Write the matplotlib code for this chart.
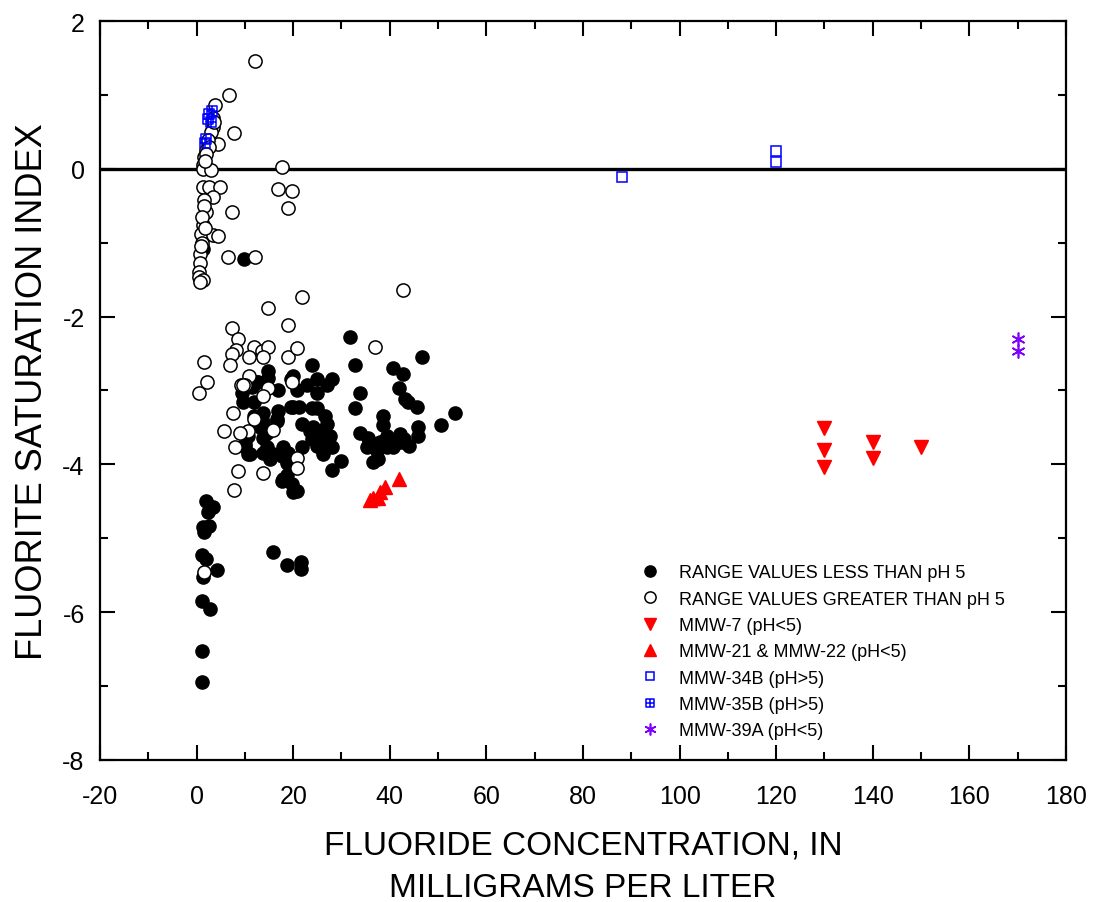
#!/usr/bin/env python3

import matplotlib.pyplot as plt
import numpy as np
from matplotlib.path import Path

plt.rcParams['font.family'] = ['Liberation Sans', 'DejaVu Sans']
plt.rcParams['axes.unicode_minus'] = False

# range values, pH less than 5 (filled circles)
lt5_x = [1.9, 3.3, 2.3, 1.4, 2.5, 1.6, 1.2, 1.9, 4.3, 1.4, 1.2, 2.7, 1.2, 1.2,
         15.9, 18.8, 21.6, 21.6, 1.4, 9.9,
         31.8, 46.6, 23.9, 32.8, 40.6, 42.7, 14.8, 14.8, 20.0, 24.9, 28.0, 27.0,
         22.9, 12.6, 11.5, 16.9, 20.8, 24.9, 33.8, 41.9, 9.7, 11.8, 20.0, 21.2,
         23.9, 24.9, 32.8, 43.1, 43.7, 45.6, 53.4, 13.8, 16.7, 13.8, 13.2, 14.6,
         26.6, 38.6, 38.6, 50.7, 21.9, 24.1, 25.6, 27.6, 10.7, 33.8, 35.5, 39.4,
         42.1, 45.8, 45.8, 23.9, 25.6, 28.0, 17.9, 14.6, 10.1, 11.1, 13.8, 15.9,
         19.0, 21.9, 26.2, 35.3, 37.3, 39.4, 40.6, 42.5, 36.5, 37.5, 29.9, 28.0,
         19.8, 18.8, 17.7, 19.8, 20.8,
         9.5, 19.6, 12.8, 19.6, 16.9, 11.8, 13.6, 16.7, 13.8, 10.1, 10.7, 15.3,
         17.7, 18.8, 17.9, 20.0, 24.5, 25.0, 26.0, 23.5, 27.0, 40.0, 41.0, 43.0,
         44.0, 38.0]
lt5_y = [-4.50, -4.58, -4.65, -4.85, -4.84, -4.92, -5.22, -5.28, -5.43, -5.53,
         -5.85, -5.96, -6.53, -6.95,
         -5.19, -5.36, -5.32, -5.41, -1.09, -1.22,
         -2.27, -2.55, -2.65, -2.66, -2.69, -2.77, -2.74, -2.83, -2.80, -2.84,
         -2.85, -2.92, -2.92, -2.89, -2.95, -2.99, -3.00, -3.04, -3.04, -2.96,
         -3.15, -3.15, -3.22, -3.23, -3.24, -3.24, -3.24, -3.11, -3.15, -3.22,
         -3.31, -3.31, -3.41, -3.43, -3.50, -3.57, -3.35, -3.35, -3.47, -3.47,
         -3.46, -3.50, -3.55, -3.62, -3.62, -3.58, -3.64, -3.62, -3.59, -3.50,
         -3.62, -3.66, -3.70, -3.76, -3.76, -3.76, -3.76, -3.86, -3.84, -3.86,
         -3.85, -3.77, -3.86, -3.76, -3.82, -3.77, -3.77, -3.70, -3.97, -3.93,
         -3.95, -4.08, -4.00, -4.14, -4.23, -4.27, -4.36,
         -3.03, -2.84, -2.89, -3.22, -3.28, -3.35, -3.43, -3.38, -3.64, -3.72,
         -3.86, -3.93, -3.89, -3.98, -4.20, -4.38, -3.60, -3.75, -3.65, -3.55,
         -3.45, -3.65, -3.72, -3.66, -3.75, -3.70]

# range values, pH greater than 5 (open circles)
gt5_x = [12.0, 6.8, 3.9, 7.8, 4.5, 3.5, 2.9, 2.3, 1.9, 1.6, 1.4, 3.3, 3.7, 1.4,
         2.9, 17.7, 1.4, 2.5, 4.9, 3.5, 1.6, 1.9, 7.4, 1.4, 1.0, 3.3, 4.5, 0.8,
         6.6, 12.0, 0.8, 0.6, 0.6, 1.4, 0.8, 16.9, 19.8, 19.0,
         2.5, 2.0, 1.8, 1.5, 1.2, 1.7, 1.1, 0.9,
         21.9, 14.8, 19.0, 7.4, 8.5, 8.2, 7.4, 11.8, 13.6, 14.8, 10.9, 13.8,
         19.0, 20.8, 7.0, 1.6, 2.1, 0.6, 10.9, 9.1, 10.1, 14.8, 13.8, 19.8,
         7.6, 42.7, 36.9, 5.6, 10.7, 8.9, 8.0, 8.5, 13.8, 7.8, 11.8, 15.9,
         20.8, 20.8, 9.7, 1.6]
gt5_y = [1.46, 1.00, 0.86, 0.49, 0.34, 0.57, 0.50, 0.39, 0.26, 0.16, 0.05,
         0.69, 0.64, 0.00, -0.02, 0.02, -0.24, -0.24, -0.24, -0.38, -0.42,
         -0.58, -0.58, -0.76, -0.88, -0.89, -0.91, -1.15, -1.19, -1.19, -1.27,
         -1.39, -1.47, -1.51, -1.53, -0.27, -0.30, -0.53,
         0.30, 0.20, 0.10, -0.50, -0.65, -0.80, -1.00, -1.05,
         -1.73, -1.88, -2.11, -2.16, -2.30, -2.45, -2.51, -2.41, -2.47, -2.41,
         -2.54, -2.55, -2.54, -2.42, -2.66, -2.62, -2.89, -3.03, -2.81, -2.93,
         -2.93, -2.97, -3.07, -2.89, -3.30, -1.64, -2.41, -3.55, -3.55, -3.58,
         -3.77, -4.09, -4.11, -4.34, -3.39, -3.53, -3.91, -4.05, -2.92, -5.45]

mmw7_x = [130, 130, 130, 140, 140, 150]
mmw7_y = [-3.51, -3.81, -4.04, -3.70, -3.92, -3.76]

mmw21_x = [36.0, 36.5, 37.5, 38.0, 39.0, 42.0]
mmw21_y = [-4.48, -4.45, -4.45, -4.38, -4.30, -4.20]

mmw34_x = [88, 120, 120]
mmw34_y = [-0.11, 0.24, 0.09]

mmw35_x = [3.2, 2.6, 2.4, 2.9, 2.0, 1.8]
mmw35_y = [0.78, 0.74, 0.68, 0.64, 0.40, 0.35]

mmw39_x = [170, 170]
mmw39_y = [-2.30, -2.46]

# square with a cross inside
box_plus = Path([(-1, -1), (1, -1), (1, 1), (-1, 1), (-1, -1),
                 (0, -1), (0, 1), (-1, 0), (1, 0)],
                [Path.MOVETO, Path.LINETO, Path.LINETO, Path.LINETO, Path.CLOSEPOLY,
                 Path.MOVETO, Path.LINETO, Path.MOVETO, Path.LINETO])

fig = plt.figure(figsize=(10.94, 9.03), dpi=100)
ax = fig.add_axes([0.0914, 0.1573, 0.8830, 0.8183])

ax.axhline(0, color='black', lw=2.4, zorder=1)

ax.plot(lt5_x, lt5_y, 'o', ms=9.5, mfc='black', mec='black', mew=1.0,
        label='RANGE VALUES LESS THAN pH 5', zorder=2)
ax.plot(gt5_x, gt5_y, 'o', ms=9.5, mfc='white', mec='black', mew=1.1,
        label='RANGE VALUES GREATER THAN pH 5', zorder=3)
ax.plot(mmw7_x, mmw7_y, 'v', ms=10.5, color='#ff0000', mec='#ff0000',
        label='MMW-7 (pH<5)', zorder=4)
ax.plot(mmw21_x, mmw21_y, '^', ms=10.5, color='#ff0000', mec='#ff0000',
        label='MMW-21 & MMW-22 (pH<5)', zorder=4)
ax.plot(mmw34_x, mmw34_y, 's', ms=7, mfc='none', mec='#0000ff', mew=1.1,
        label='MMW-34B (pH>5)', zorder=4)
ax.plot(mmw35_x, mmw35_y, marker=box_plus, ls='none', ms=7, mfc='none',
        mec='#0000ff', mew=1.1, label='MMW-35B (pH>5)', zorder=4)
ax.plot(mmw39_x, mmw39_y, marker=(6, 2, 0), ls='none', ms=10,
        mec='#8000ff', mew=1.2, label='MMW-39A (pH<5)', zorder=4)

ax.set_xlim(-20, 180)
ax.set_ylim(-8, 2)
ax.set_xticks(np.arange(-20, 181, 20))
ax.set_xticks(np.arange(-10, 180, 20), minor=True)
ax.set_yticks(np.arange(-8, 3, 2))
ax.set_yticks(np.arange(-7, 2, 2), minor=True)

ax.tick_params(which='both', direction='in', top=True, right=True, width=1.5,
               labelsize=18)
ax.tick_params(which='major', length=11, pad=11)
ax.tick_params(axis='x', which='major', pad=17)
ax.tick_params(which='minor', length=6)
for s in ax.spines.values():
    s.set_linewidth(1.6)

ax.set_xlabel('FLUORIDE CONCENTRATION, IN\nMILLIGRAMS PER LITER', fontsize=24,
              labelpad=16, linespacing=1.45)
ax.set_ylabel('FLUORITE SATURATION INDEX', fontsize=26, labelpad=9)

ax.legend(loc='upper left', bbox_to_anchor=(0.555, 0.265), frameon=False,
          fontsize=13, markerscale=0.85, handlelength=1.5, handletextpad=0.9,
          labelspacing=0.52, borderpad=0, borderaxespad=0)

plt.savefig('out.png', dpi=100)
